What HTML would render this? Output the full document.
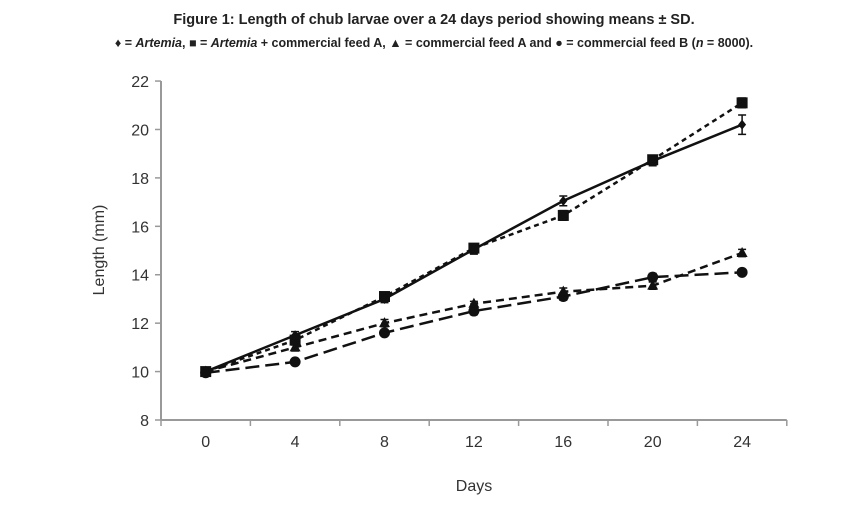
<!DOCTYPE html>
<html><head><meta charset="utf-8"><style>
html,body{margin:0;padding:0;background:#fff;width:868px;height:522px;overflow:hidden;font-family:"Liberation Sans",sans-serif}
svg{display:block}
</style></head><body>
<svg width="868" height="522" viewBox="0 0 868 522" xmlns="http://www.w3.org/2000/svg">
<text x="434" y="24" text-anchor="middle" font-size="14.5" font-weight="bold" fill="#222">Figure 1: Length of chub larvae over a 24 days period showing means ± SD.</text>
<text x="434" y="47" text-anchor="middle" font-size="12.5" font-weight="bold" fill="#222">♦ = <tspan font-style="italic">Artemia</tspan>, ■ = <tspan font-style="italic">Artemia</tspan> + commercial feed A, ▲ = commercial feed A and ● = commercial feed B (<tspan font-style="italic">n</tspan> = 8000).</text>
<g id="axes"></g>
<g id="series"></g>
<text x="474" y="491" text-anchor="middle" font-size="16" fill="#333">Days</text>
<text transform="translate(104,250) rotate(-90)" text-anchor="middle" font-size="16" fill="#333">Length (mm)</text>
</svg>
<script>
const days=[0,4,8,12,16,20,24];
const yTicks=[8,10,12,14,16,18,20,22];
const artemia=[10.0,11.5,13.0,15.05,17.05,18.7,20.2];
const artemiaSD=[0.15,0.15,0.15,0.2,0.2,0.2,0.4];
const artemiaA=[10.0,11.3,13.1,15.1,16.45,18.75,21.1];
const artemiaASD=[0.15,0.2,0.15,0.15,0.2,0.15,0.2];
const feedA=[10.0,11.0,12.0,12.8,13.3,13.55,14.9];
const feedASD=[0.1,0.15,0.15,0.1,0.15,0.15,0.15];
const feedB=[9.95,10.4,11.6,12.5,13.1,13.9,14.1];
const feedBSD=[0.1,0.1,0.1,0.15,0.15,0.15,0.1];
const NS='http://www.w3.org/2000/svg';
const x0=161,step=89.4,yb=420,ppu=24.21;
const X=i=>x0+step*(i+0.5);
const Y=v=>yb-(v-8)*ppu;
function mk(t,a,p){const e=document.createElementNS(NS,t);for(const k in a)e.setAttribute(k,a[k]);p.appendChild(e);return e;}
const ax=document.getElementById('axes');
let yl=mk('line',{x1:x0,y1:Y(22),x2:x0,y2:yb,stroke:'#999','stroke-width':2},ax);


let xl=mk('line',{x1:x0,y1:yb,x2:x0+step*7,y2:yb,stroke:'#999','stroke-width':2},ax);


yTicks.forEach(v=>{
 mk('line',{x1:x0-6,y1:Y(v),x2:x0,y2:Y(v),stroke:'#999','stroke-width':1.5},ax);
 const t=mk('text',{x:x0-12,y:Y(v)+6,'text-anchor':'end','font-size':16,fill:'#333'},ax);t.textContent=v;
 
 
});
for(let i=0;i<=7;i++)mk('line',{x1:x0+step*i,y1:yb,x2:x0+step*i,y2:yb+6,stroke:'#999','stroke-width':1.5},ax);
days.forEach((d,i)=>{const t=mk('text',{x:X(i),y:yb+27,'text-anchor':'middle','font-size':16,fill:'#333'},ax);t.textContent=d;
 
 });
const sg=document.getElementById('series');
function series(name,vals,sd,dash,marker){
 const g=mk('g',{},sg);
 
 
 mk('polyline',{points:vals.map((v,i)=>X(i)+','+Y(v)).join(' '),fill:'none',stroke:'#111','stroke-width':2.5,'stroke-dasharray':dash},g);
 vals.forEach((v,i)=>{
  const x=X(i),y=Y(v),t=Y(v+sd[i]),b=Y(v-sd[i]);
  mk('path',{d:`M${x},${t}V${b}M${x-4},${t}H${x+4}M${x-4},${b}H${x+4}`,stroke:'#111','stroke-width':1.5,fill:'none'},g);
  let m;
  if(marker==='d')m=mk('path',{d:`M${x},${y-5}L${x+4},${y}L${x},${y+5}L${x-4},${y}Z`,fill:'#111'},g);
  else if(marker==='s')m=mk('rect',{x:x-5.5,y:y-5.5,width:11,height:11,fill:'#111'},g);
  else if(marker==='t')m=mk('path',{d:`M${x},${y-6}L${x+5.5},${y+4}L${x-5.5},${y+4}Z`,fill:'#111'},g);
  else m=mk('circle',{cx:x,cy:y,r:5.5,fill:'#111'},g);
  
  
 });
}
series('series-feed-b',feedB,feedBSD,'14,6','c');
series('series-feed-a',feedA,feedASD,'8,5','t');
series('series-artemia-feed-a',artemiaA,artemiaASD,'5,4','s');
series('series-artemia',artemia,artemiaSD,'none','d');
</script>
</body></html>
